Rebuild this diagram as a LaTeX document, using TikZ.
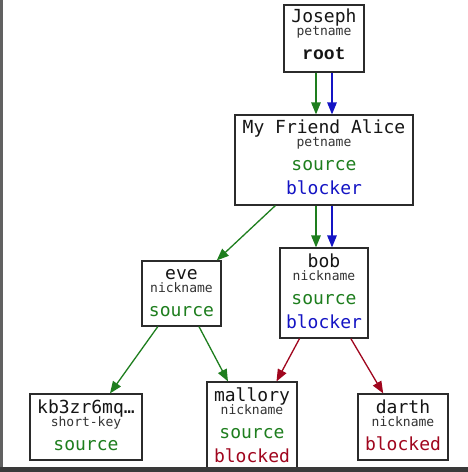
\documentclass[tikz,border=0pt]{standalone}
\usepackage{fontspec}
\setmainfont{DejaVu Sans Mono}
\newfontfamily\rootfont{Liberation Mono}
\usepackage{xcolor}
\usetikzlibrary{arrows.meta}
\definecolor{Ink}{HTML}{151515}
\definecolor{Frame}{HTML}{2B2B2B}
\definecolor{Kind}{HTML}{333333}
\definecolor{Src}{HTML}{1E7E1E}
\definecolor{Blk}{HTML}{1414C4}
\definecolor{Ban}{HTML}{A0061E}
\definecolor{Chrome}{HTML}{3A3A3A}
\newcommand{\kindtxt}[1]{{\fontsize{13}{13}\selectfont\color{Kind}#1}}
\newcommand{\flagtxt}[2]{{\color{#1}#2}}
\tikzset{
  card/.style={
    draw=Frame, line width=1.2pt, fill=white, align=center,
    inner sep=0pt, text=Ink, font=\fontsize{18}{24}\selectfont
  },
  edge/.style={-{Triangle[length=12pt,width=9.5pt]},line width=1.3pt},
  srcE/.style={edge,draw=Src},
  blkE/.style={edge,draw=Blk},
  banE/.style={edge,draw=Ban}
}
\begin{document}
\begin{tikzpicture}[x=1pt,y=-1pt]
  \fill[white] (0,0) rectangle (468,472);
  \useasboundingbox (0,0) rectangle (468,472);
  % petnames
  \node[card,minimum width=80pt,text height=54.5pt,text depth=12.5pt] (joseph) at (324,38.5)
    {Joseph\\[-11pt]\kindtxt{petname}\\{\rootfont\bfseries root}};
  \node[card,minimum width=178pt,text height=79pt,text depth=11pt] (alice) at (324,160)
    {My Friend Alice\\[-11pt]\kindtxt{petname}\\\flagtxt{Src}{source}\\\flagtxt{Blk}{blocker}};
  % nicknames
  \node[card,minimum width=79pt,text height=55pt,text depth=10pt] (eve) at (181.5,293.5)
    {eve\\[-11pt]\kindtxt{nickname}\\\flagtxt{Src}{source}};
  \node[card,minimum width=88pt,text height=80pt,text depth=10pt] (bob) at (324,293)
    {bob\\[-11pt]\kindtxt{nickname}\\\flagtxt{Src}{source}\\\flagtxt{Blk}{blocker}};
  \node[card,minimum width=112pt,text height=56pt,text depth=10pt] (kb) at (86,427)
    {kb3zr6mq…\\[-11pt]\kindtxt{short-key}\\\flagtxt{Src}{source}};
  \node[card,minimum width=90pt,text height=80pt,text depth=10pt] (mallory) at (252,427)
    {mallory\\[-11pt]\kindtxt{nickname}\\\flagtxt{Src}{source}\\\flagtxt{Ban}{blocked}};
  \node[card,minimum width=90pt,text height=56pt,text depth=10pt] (darth) at (403,427)
    {darth\\[-11pt]\kindtxt{nickname}\\\flagtxt{Ban}{blocked}};
  % edges
  \draw[srcE] ([xshift=-8pt]joseph.south)--([xshift=-8pt]alice.north);
  \draw[blkE] ([xshift=8pt]joseph.south)--([xshift=8pt]alice.north);
  \draw[srcE] (alice)--(eve);
  \draw[srcE] ([xshift=-8pt]alice.south)--([xshift=-8pt]bob.north);
  \draw[blkE] ([xshift=8pt]alice.south)--([xshift=8pt]bob.north);
  \draw[srcE] (eve)--(kb);
  \draw[srcE] (eve)--(mallory);
  \draw[banE] (bob)--(mallory);
  \draw[banE] (bob)--(darth);
  % window chrome
  \fill[Chrome] (0,467) rectangle (468,472);
  \fill[Chrome!80] (0,0) rectangle (2.5,467);
\end{tikzpicture}
\end{document}
